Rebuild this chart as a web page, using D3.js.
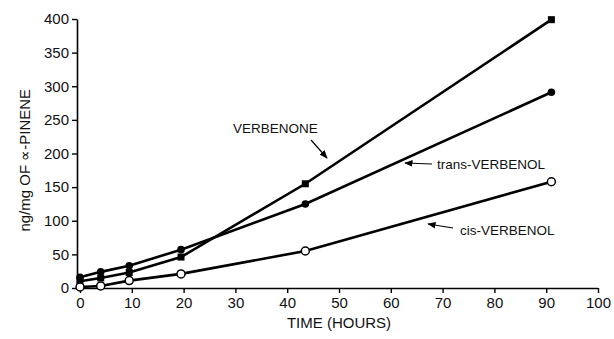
<!DOCTYPE html>
<html><head><meta charset="utf-8">
<script src="https://cdn.jsdelivr.net/npm/d3@7"></script>
<style>
body{margin:0;background:#fff;}
svg{display:block;font-family:"Liberation Sans",Arial,Helvetica,sans-serif;}
</style></head>
<body><svg id="c" width="614" height="339"></svg>
<script>
// data
const hours = [0, 4, 9.5, 19.5, 43.5, 91];
const verbenone = [10, 15, 23, 46, 155, 399];
const transVerbenol = [16, 24, 33, 57, 125, 291];
const cisVerbenol = [1.5, 3, 11, 21, 55, 158];
const xTicks = [0,10,20,30,40,50,60,70,80,90,100];
const yTicks = [0,50,100,150,200,250,300,350,400];

const svg = d3.select("#c");
const x = d3.scaleLinear().domain([0,100]).range([80,598]);
const y = d3.scaleLinear().domain([0,400]).range([288,19]);
const axX = 77;

// y axis
const ya = svg.append("g").attr("transform",`translate(${axX},0)`)
  .call(d3.axisLeft(y).tickValues(yTicks).tickSize(5).tickPadding(3).tickSizeOuter(0));
ya.select(".domain").attr("stroke","#000").attr("stroke-width",1.6);
ya.selectAll(".tick line").attr("stroke","#000").attr("stroke-width",1.4);
ya.selectAll("text").attr("font-size",15).attr("fill","#111").attr("font-family","Liberation Sans, Arial, sans-serif");

// x axis
const xa = svg.append("g").attr("transform",`translate(0,${y(0)})`)
  .call(d3.axisBottom(x).tickValues(xTicks).tickSize(5).tickPadding(4).tickSizeOuter(0));
xa.select(".domain").attr("stroke","#000").attr("stroke-width",1.6)
  .attr("d",`M${axX},0.5H${x(100)}`);
xa.selectAll(".tick line").attr("stroke","#000").attr("stroke-width",1.4);
xa.selectAll("text").attr("font-size",15).attr("fill","#111").attr("font-family","Liberation Sans, Arial, sans-serif");

// titles
svg.append("text").attr("x",x(50)).attr("y",328).attr("text-anchor","middle")
  .attr("font-size",15).attr("fill","#111").text("TIME (HOURS)");
svg.append("text").attr("transform",`translate(30,${y(190)}) rotate(-90)`)
  .attr("text-anchor","middle").attr("font-size",15).attr("fill","#111")
  .text("ng/mg OF \u221D-PINENE");

// lines
const series = [
  {name:"VERBENONE", vals:verbenone, marker:"square"},
  {name:"trans-VERBENOL", vals:transVerbenol, marker:"dot"},
  {name:"cis-VERBENOL", vals:cisVerbenol, marker:"open"}
];
const line = d3.line().x(d=>x(d[0])).y(d=>y(d[1]));
series.forEach(s=>{
  const pts = hours.map((h,i)=>[h,s.vals[i]]);
  svg.append("path").datum(pts).attr("d",line).attr("fill","none")
    .attr("stroke","#000").attr("stroke-width",2.6);
  const g = svg.append("g");
  if(s.marker==="square"){
    g.selectAll("rect").data(pts).join("rect")
      .attr("x",d=>x(d[0])-3.5).attr("y",d=>y(d[1])-3.5)
      .attr("width",7).attr("height",7).attr("fill","#000");
  } else if(s.marker==="dot"){
    g.selectAll("circle").data(pts).join("circle")
      .attr("cx",d=>x(d[0])).attr("cy",d=>y(d[1])).attr("r",3.8).attr("fill","#000");
  } else {
    g.selectAll("circle").data(pts).join("circle")
      .attr("cx",d=>x(d[0])).attr("cy",d=>y(d[1])).attr("r",4).attr("fill","#fff")
      .attr("stroke","#000").attr("stroke-width",1.5);
  }
});

// annotations
const defs = svg.append("defs");
defs.append("marker").attr("id","ah").attr("viewBox","0 0 10 10").attr("refX",9).attr("refY",5)
  .attr("markerWidth",7).attr("markerHeight",7).attr("orient","auto-start-reverse")
  .append("path").attr("d","M0,1L10,5L0,9Z").attr("fill","#000");
const ann = [
  {t:"VERBENONE", tx:233, ty:133, a:[311,140,327,158]},
  {t:"trans-VERBENOL", tx:437, ty:169, a:[432,164,405,163]},
  {t:"cis-VERBENOL", tx:460, ty:235, a:[453,228,428,224]}
];
ann.forEach(d=>{
  svg.append("text").attr("x",d.tx).attr("y",d.ty).attr("font-size",13.5).attr("fill","#111").text(d.t);
  svg.append("line").attr("x1",d.a[0]).attr("y1",d.a[1]).attr("x2",d.a[2]).attr("y2",d.a[3])
    .attr("stroke","#000").attr("stroke-width",1.2).attr("marker-end","url(#ah)");
});
</script></body></html>
